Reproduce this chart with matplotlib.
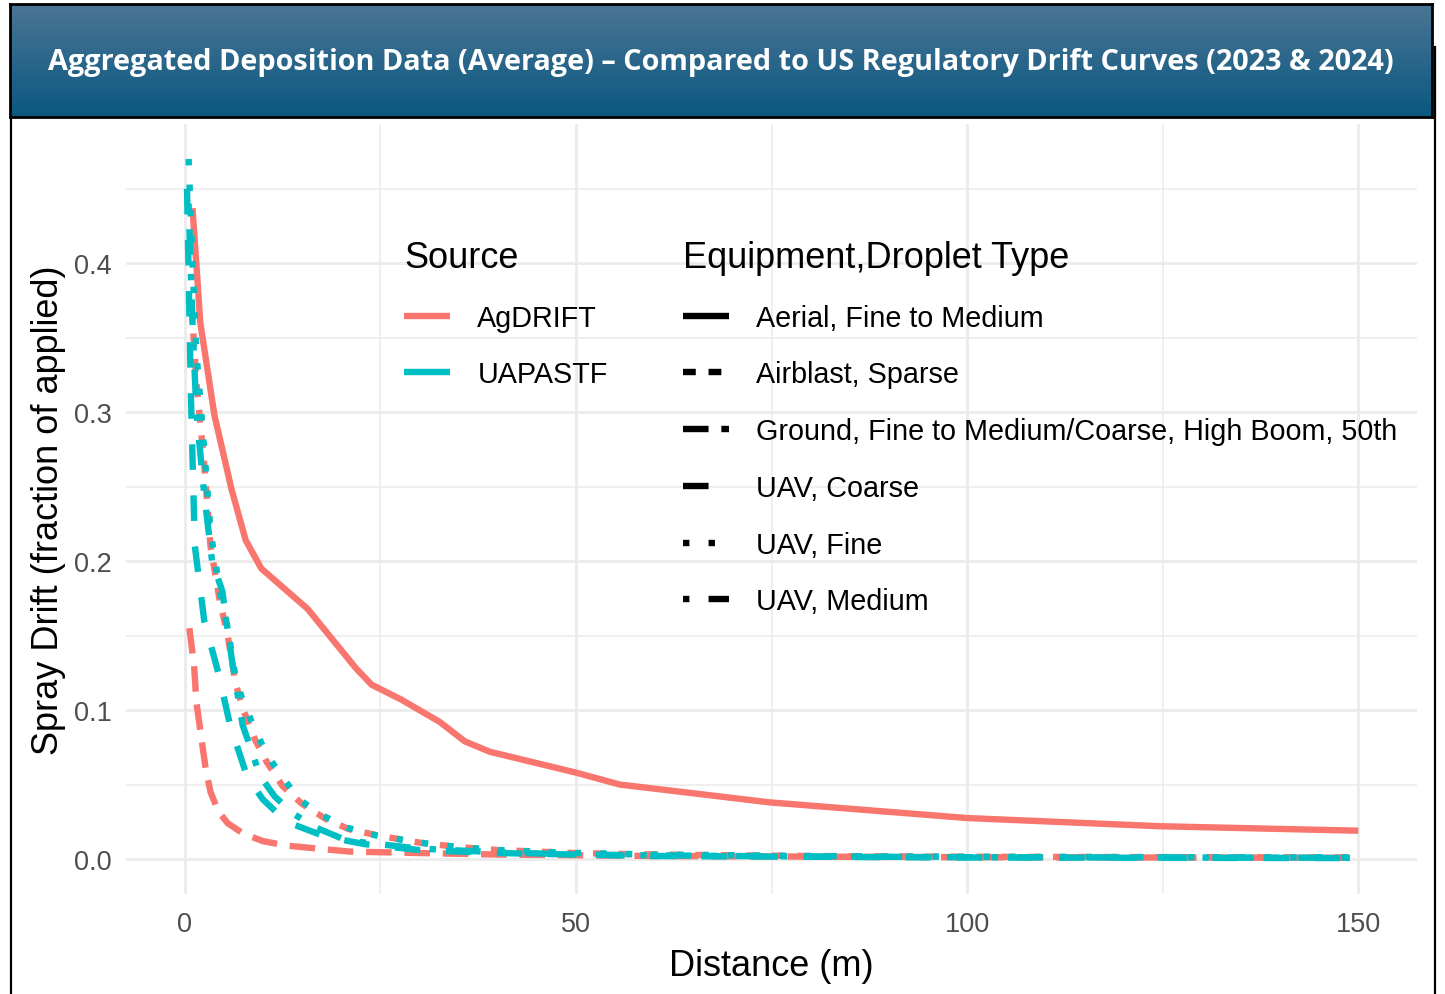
import numpy as np
import matplotlib
matplotlib.use("Agg")
import matplotlib.pyplot as plt
from matplotlib.lines import Line2D
from matplotlib.ticker import FixedLocator, FormatStrFormatter

plt.rcParams['font.family'] = ['Liberation Sans', 'DejaVu Sans']

# --- data (distance m, fraction of applied) ---
aerial_x = [1, 2, 3.8, 6, 7.8, 9.8, 15.7, 21.9, 23.9, 27.7, 32.6, 35.8, 39, 50, 55.6, 68.4, 74.8, 100, 124.7, 150]
aerial_y = [0.437, 0.36, 0.298, 0.248, 0.214, 0.195, 0.168, 0.128, 0.117, 0.107, 0.092, 0.079, 0.072,
            0.058, 0.050, 0.042, 0.038, 0.0275, 0.022, 0.019]

airblast_x = [0.9, 1.5, 2.5, 3.3, 4.5, 5.5, 6.5, 7.5, 9, 10.5, 12.5, 15, 18, 21, 25, 30, 35, 40, 50, 60, 80, 100, 150]
airblast_y = [0.37, 0.32, 0.265, 0.21, 0.173, 0.15, 0.118, 0.10, 0.08, 0.065, 0.049, 0.037, 0.027, 0.020,
              0.0155, 0.011, 0.008, 0.006, 0.004, 0.003, 0.002, 0.0015, 0.001]

ground_x = [0.6, 1.2, 1.5, 1.9, 2.3, 2.7, 3.3, 4.3, 5.5, 7.5, 10, 13, 17, 21, 30, 40, 60, 100, 150]
ground_y = [0.155, 0.13, 0.105, 0.09, 0.075, 0.06, 0.045, 0.032, 0.024, 0.017, 0.012, 0.009, 0.007, 0.005,
            0.004, 0.003, 0.002, 0.0012, 0.0008]

fine_x = [0.5, 1.0, 1.5, 2.5, 3.3, 4.5, 5.5, 6.5, 7.5, 9, 10.5, 12.5, 14.6, 17.7, 20.8, 24.3, 30, 35, 40, 50, 60, 80, 100, 150]
fine_y = [0.47, 0.40, 0.34, 0.275, 0.22, 0.18, 0.155, 0.122, 0.105, 0.087, 0.07, 0.055, 0.040, 0.029, 0.021,
          0.016, 0.011, 0.008, 0.006, 0.004, 0.003, 0.002, 0.0015, 0.001]

medium_x = [0.5, 1, 1.5, 2.5, 3.5, 4.8, 6, 7.4, 8.6, 9.6, 11.5, 14, 16.8, 20, 23, 30, 40, 50, 70, 100, 150]
medium_y = [0.44, 0.36, 0.30, 0.245, 0.20, 0.18, 0.135, 0.09, 0.072, 0.056, 0.042, 0.030, 0.021, 0.014,
            0.011, 0.007, 0.0045, 0.003, 0.002, 0.0012, 0.0008]

coarse_x = [0.3, 0.8, 1.3, 2.5, 4.3, 5.8, 8, 10, 13, 18, 23, 30, 40, 60, 100, 150]
coarse_y = [0.45, 0.31, 0.21, 0.16, 0.125, 0.09, 0.055, 0.04, 0.025, 0.015, 0.010, 0.006, 0.004, 0.002,
            0.001, 0.0006]

sources = ['AgDRIFT', 'UAPASTF']
equipment = ['Aerial, Fine to Medium', 'Airblast, Sparse',
             'Ground, Fine to Medium/Coarse, High Boom, 50th',
             'UAV, Coarse', 'UAV, Fine', 'UAV, Medium']

colors = {'AgDRIFT': '#F8766D', 'UAPASTF': '#00BFC4'}
ltypes = {
    'Aerial, Fine to Medium': '-',
    'Airblast, Sparse': (0, (2, 2)),
    'Ground, Fine to Medium/Coarse, High Boom, 50th': (0, (4, 2)),
    'UAV, Coarse': (0, (4, 4)),
    'UAV, Fine': (0, (1, 3)),
    'UAV, Medium': (0, (1, 3, 4, 3)),
}

series = [
    ('AgDRIFT', 'Aerial, Fine to Medium', aerial_x, aerial_y),
    ('AgDRIFT', 'Airblast, Sparse', airblast_x, airblast_y),
    ('AgDRIFT', 'Ground, Fine to Medium/Coarse, High Boom, 50th', ground_x, ground_y),
    ('UAPASTF', 'UAV, Coarse', coarse_x, coarse_y),
    ('UAPASTF', 'UAV, Fine', fine_x, fine_y),
    ('UAPASTF', 'UAV, Medium', medium_x, medium_y),
]

W, H = 1445, 995
fig = plt.figure(figsize=(W / 100, H / 100), dpi=100)
LW = 4.6

def fx(px):
    return px / W

def fy(py):
    return 1 - py / H

# outer frame of the slide
fig.add_artist(Line2D([fx(11), fx(11)], [fy(118), fy(995)], color='black', lw=1.6))
fig.add_artist(Line2D([fx(1435), fx(1435)], [fy(48), fy(995)], color='black', lw=1.6))

# banner with a vertical gradient
bax = fig.add_axes([fx(10), fy(118), fx(1432) - fx(10), fy(5) - fy(118)])
top = np.array([75, 117, 149]) / 255
bot = np.array([10, 88, 128]) / 255
t = np.linspace(0, 1, 200)[:, None]
grad = top[None, None, :] * (1 - t[..., None]) + bot[None, None, :] * t[..., None]
bax.imshow(grad, aspect='auto', extent=[0, 1, 0, 1])
bax.set_xticks([])
bax.set_yticks([])
for s in bax.spines.values():
    s.set_color('black')
    s.set_linewidth(2)
bax.text(0.5, 0.49, 'Aggregated Deposition Data (Average) \u2013 Compared to US Regulatory Drift Curves (2023 & 2024)',
         color='white', fontsize=20.8, fontweight='bold', family=['Open Sans', 'DejaVu Sans'],
         ha='center', va='center', transform=bax.transAxes)

# main panel
ax = fig.add_axes([fx(126), fy(895), fx(1417) - fx(126), fy(125) - fy(895)])
for src, eq, xs, ys in series:
    ax.plot(xs, ys, color=colors[src], linestyle=ltypes[eq], lw=LW, dash_capstyle='butt',
            solid_capstyle='butt')

ax.set_xlim(-7.5, 157.5)
ax.set_ylim(-0.0235, 0.4935)
ax.xaxis.set_major_locator(FixedLocator([0, 50, 100, 150]))
ax.xaxis.set_minor_locator(FixedLocator([25, 75, 125]))
ax.yaxis.set_major_locator(FixedLocator([0, 0.1, 0.2, 0.3, 0.4]))
ax.yaxis.set_minor_locator(FixedLocator([0.05, 0.15, 0.25, 0.35, 0.45]))
ax.yaxis.set_major_formatter(FormatStrFormatter('%.1f'))
ax.grid(which='major', color='#EBEBEB', lw=2.0)
ax.grid(which='minor', color='#EBEBEB', lw=1.1)
ax.set_axisbelow(True)
for s in ax.spines.values():
    s.set_visible(False)
ax.tick_params(which='both', length=0, labelsize=19.5, labelcolor='#4D4D4D')
ax.tick_params(axis='y', pad=10)
ax.tick_params(axis='x', pad=12)
ax.set_xlabel('Distance (m)', fontsize=26, labelpad=8)
ax.set_ylabel('Spray Drift (fraction of applied)', fontsize=26, labelpad=6)

# legends
src_handles = [Line2D([], [], color=colors[s], lw=LW, solid_capstyle='butt') for s in sources]
leg1 = ax.legend(src_handles, sources, title='Source', loc='upper left',
                 bbox_to_anchor=(fx(404), fy(241)), bbox_transform=fig.transFigure,
                 frameon=False, fontsize=20.7, title_fontsize=26, handlelength=1.6,
                 handletextpad=0.95, labelspacing=1.0, borderpad=0, borderaxespad=0,
                 alignment='left')
ax.add_artist(leg1)
eq_handles = [Line2D([], [], color='black', lw=LW, linestyle=ltypes[e], dash_capstyle='butt',
                     solid_capstyle='butt') for e in equipment]
ax.legend(eq_handles, equipment, title='Equipment,Droplet Type', loc='upper left',
          bbox_to_anchor=(fx(683), fy(241)), bbox_transform=fig.transFigure,
          frameon=False, fontsize=20.7, title_fontsize=26, handlelength=1.6,
          handletextpad=0.95, labelspacing=1.0, borderpad=0, borderaxespad=0,
          alignment='left')

fig.savefig('out.png', dpi=100)
